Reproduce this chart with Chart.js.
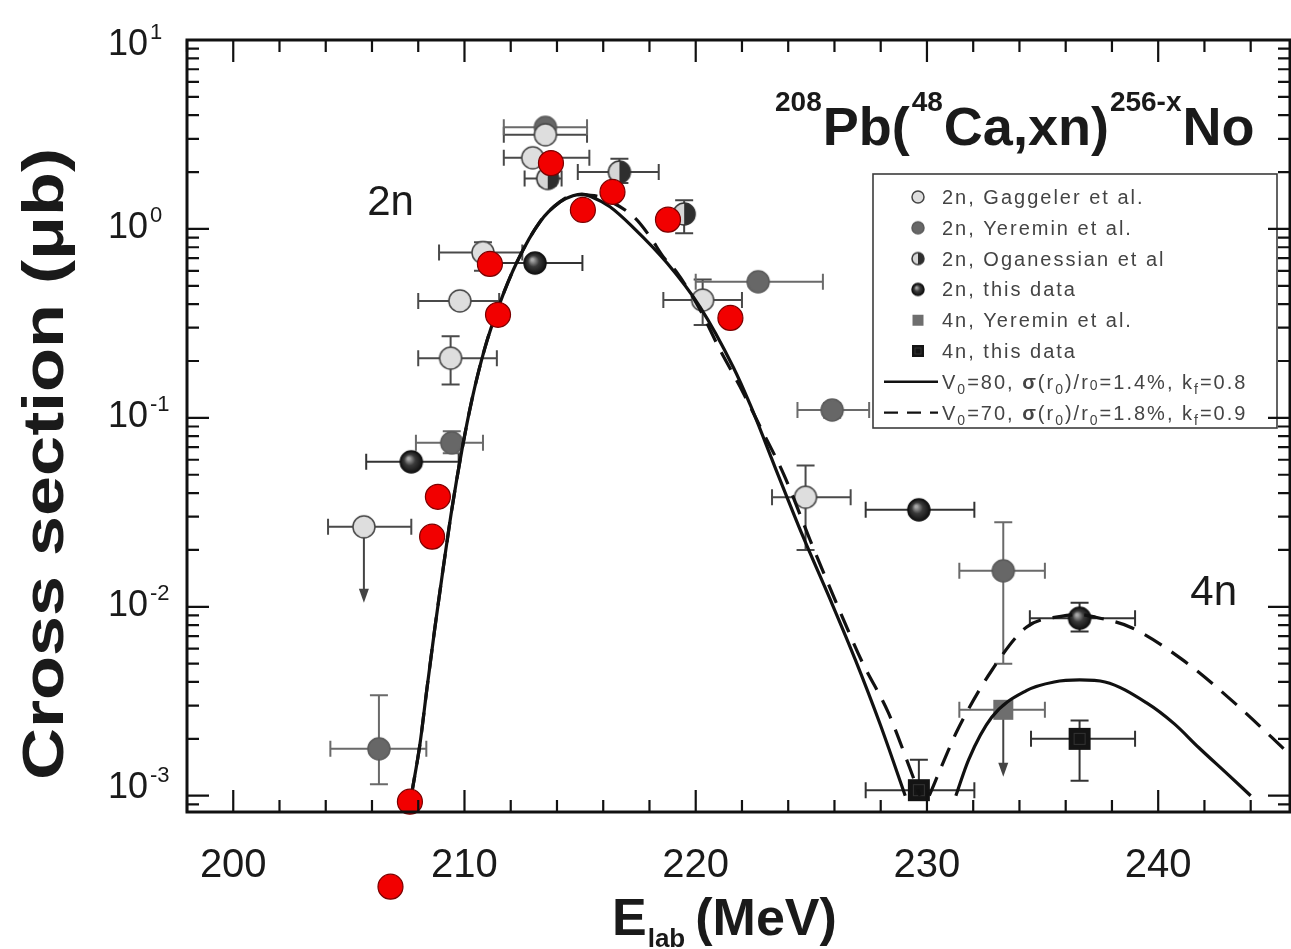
<!DOCTYPE html>
<html>
<head>
<meta charset="utf-8">
<script src="https://cdn.jsdelivr.net/npm/chart.js@4.4.1/dist/chart.umd.min.js"></script>
<style>
  html, body { margin: 0; padding: 0; background: #fff; }
  canvas { display: block; }
</style>
</head>
<body>
<canvas id="chart" width="1291" height="949"></canvas>
<script>
// ---------------- data ----------------
const xTickLabels = [200, 210, 220, 230, 240];
const yDecades = [-3, -2, -1, 0, 1];

// 2n, Gaggeler et al.
const gagE    = [205.65, 209.4, 209.8, 210.8, 212.95, 213.5, 220.3, 224.75];
const gagS    = [0.0265, 0.207, 0.416, 0.75, 2.38, 3.15, 0.42, 0.038];
const gagELo  = [204.1, 208.0, 208.0, 208.9, 211.7, 211.7, 218.6, 223.3];
const gagEHi  = [207.7, 211.4, 211.5, 212.5, 215.4, 215.3, 222.0, 226.7];
const gagSLo  = [null, 0.15, null, 0.6, null, null, 0.31, 0.02];
const gagSHi  = [null, 0.27, null, 0.85, null, null, 0.54, 0.056];

// 2n, Yeremin et al.
const yerE    = [206.3, 209.45, 213.5, 222.7, 225.9, 233.3];
const yerS    = [0.00177, 0.0738, 3.45, 0.525, 0.11, 0.0155];
const yerELo  = [204.2, 207.9, 211.7, 220.0, 224.4, 231.4];
const yerEHi  = [208.35, 210.8, 215.3, 225.5, 227.5, 235.1];
const yerSLo  = [0.00115, 0.065, null, null, 0.1, 0.005];
const yerSHi  = [0.0034, 0.085, null, null, 0.12, 0.028];

// 2n, Oganessian et al.
const ogaE    = [213.6, 216.7, 219.5];
const ogaS    = [1.85, 2.0, 1.2];
const ogaELo  = [212.6, 214.9, null];
const ogaEHi  = [214.2, 218.4, null];
const ogaSLo  = [1.7, 1.75, 0.95];
const ogaSHi  = [2.0, 2.35, 1.42];

// 2n, this data
const thiE    = [207.7, 213.05, 229.65, 236.6];
const thiS    = [0.0585, 0.66, 0.0326, 0.0087];
const thiELo  = [205.75, 211.0, 227.35, 234.45];
const thiEHi  = [209.75, 215.1, 232.05, 239.0];
const thiSLo  = [null, null, null, 0.0074];
const thiSHi  = [null, null, null, 0.0105];

// 4n, Yeremin et al.
const y4nE    = [233.3];
const y4nS    = [0.00285];
const y4nELo  = [231.4];
const y4nEHi  = [235.1];

// 4n, this data
const t4nE    = [236.6, 229.65];
const t4nS    = [0.002, 0.00107];
const t4nELo  = [234.5, 227.35];
const t4nEHi  = [239.0, 232.05];
const t4nSLo  = [0.0012, 0.00107];
const t4nSHi  = [0.0025, 0.00155];

// upper limits (arrows pointing down)
const limitE    = [205.65, 233.3];
const limitFrom = [0.0265, 0.00285];
const limitTo   = [0.0105, 0.00126];

// highlighted points
const redE = [207.64, 208.6, 208.85, 211.45, 211.1, 213.74, 215.12, 216.4, 218.8, 221.5, 206.8];
const redS = [0.00093, 0.0235, 0.0382, 0.351, 0.653, 2.23, 1.26, 1.57, 1.12, 0.338, 0.00033];

// calculations: V0=80, sigma(r0)/r0=1.4%, kf=0.8
const calcAE2n = [207.7, 208.07, 208.37, 208.72, 209.07, 209.45, 209.89, 210.32, 210.88, 211.53, 212.27, 213.26,
                  214.13, 214.69, 215.08, 215.43, 216.29, 217.29, 218.76, 220.19, 221.62, 222.36, 223.44,
                  224.61, 225.82, 226.9, 227.98, 229.06];
const calcAS2n = [0.001, 0.00186, 0.00364, 0.00774, 0.0157, 0.0326, 0.0677, 0.1245, 0.234, 0.405, 0.668, 1.089,
                  1.39, 1.5, 1.53, 1.49, 1.31, 1.02, 0.66, 0.386, 0.186, 0.117, 0.0544,
                  0.024, 0.0109, 0.00525, 0.00238, 0.001];
const calcAE4n = [231.25, 231.8, 232.8, 234.3, 235.5, 236.6, 237.7, 239.5, 240.7, 241.75, 243.0, 244.0];
const calcAS4n = [0.001, 0.00155, 0.0026, 0.0036, 0.004, 0.0041, 0.004, 0.0031, 0.0024, 0.0018, 0.0013, 0.001];

// calculations: V0=70, sigma(r0)/r0=1.8%, kf=0.9
const calcBE2n = [207.7, 208.07, 208.37, 208.72, 209.07, 209.45, 209.89, 210.32, 210.88, 211.53, 212.27, 213.26,
                  214.13, 214.8, 215.6, 216.4, 217.38, 218.03, 218.6, 219.2, 220.19, 221.05, 221.92, 222.79,
                  223.83, 224.95, 226.08, 227.2, 228.33, 229.24, 229.7];
const calcBS2n = [0.001, 0.00186, 0.00364, 0.00774, 0.0157, 0.0326, 0.0677, 0.1245, 0.234, 0.405, 0.668, 1.089,
                  1.39, 1.52, 1.5, 1.38, 1.14, 0.907, 0.711, 0.585, 0.373, 0.229, 0.146, 0.0896,
                  0.0495, 0.0225, 0.0105, 0.0051, 0.00275, 0.00142, 0.001];
const calcBE4n = [230.1, 230.8, 231.3, 232.8, 234.3, 235.8, 236.6, 237.3, 238.8, 241.0, 243.3, 245.7];
const calcBS4n = [0.001, 0.0016, 0.0022, 0.0046, 0.0078, 0.0089, 0.0091, 0.0088, 0.0078, 0.0053, 0.0031, 0.00165];

const legendRows = ['2n, Gaggeler et al.', '2n, Yeremin et al.', '2n, Oganessian et al',
                    '2n, this data', '4n, Yeremin et al.', '4n, this data'];

// ---------------- helpers ----------------
const FONT = '"Liberation Sans", Arial, Helvetica, sans-serif';
const pts = (xs, ys) => xs.map((x, i) => ({ x, y: ys[i] }));

function markerCanvas(kind, r) {
  const s = Math.ceil(2 * r + 4);
  const c = document.createElement('canvas');
  c.width = s; c.height = s;
  const g = c.getContext('2d');
  const m = s / 2;
  g.lineWidth = 1.5;
  if (kind === 'open') {
    g.beginPath(); g.arc(m, m, r, 0, Math.PI * 2);
    g.fillStyle = '#dedede'; g.fill();
    g.strokeStyle = '#444'; g.stroke();
  } else if (kind === 'grey') {
    g.beginPath(); g.arc(m, m, r, 0, Math.PI * 2);
    g.fillStyle = '#676767'; g.fill();
    g.strokeStyle = '#5a5a5a'; g.stroke();
  } else if (kind === 'half') {
    g.beginPath(); g.arc(m, m, r, Math.PI / 2, Math.PI * 1.5);
    g.fillStyle = '#d6d6d6'; g.fill();
    g.beginPath(); g.arc(m, m, r, -Math.PI / 2, Math.PI / 2);
    g.fillStyle = '#2e2e2e'; g.fill();
    g.beginPath(); g.arc(m, m, r, 0, Math.PI * 2);
    g.strokeStyle = '#333'; g.stroke();
  } else if (kind === 'ball') {
    const gr = g.createRadialGradient(m - r * 0.25, m - r * 0.3, r * 0.1, m, m, r);
    gr.addColorStop(0, '#a8a8a8');
    gr.addColorStop(0.45, '#3a3a3a');
    gr.addColorStop(1, '#111');
    g.beginPath(); g.arc(m, m, r, 0, Math.PI * 2);
    g.fillStyle = gr; g.fill();
    g.strokeStyle = '#111'; g.stroke();
  } else if (kind === 'gsq') {
    g.fillStyle = '#6e6e6e'; g.fillRect(m - r, m - r, 2 * r, 2 * r);
  } else if (kind === 'bsq') {
    g.fillStyle = '#141414'; g.fillRect(m - r, m - r, 2 * r, 2 * r);
    g.strokeStyle = '#333'; g.lineWidth = 1; g.strokeRect(m - r * 0.5, m - r * 0.5, r, r);
  }
  return c;
}

const M = {
  open: markerCanvas('open', 11), grey: markerCanvas('grey', 11), half: markerCanvas('half', 11),
  ball: markerCanvas('ball', 11), gsq: markerCanvas('gsq', 10), bsq: markerCanvas('bsq', 11)
};
const ML = {
  open: markerCanvas('open', 6), grey: markerCanvas('grey', 6), half: markerCanvas('half', 6),
  ball: markerCanvas('ball', 6), gsq: markerCanvas('gsq', 5.5), bsq: markerCanvas('bsq', 6)
};

const errorSeries = [
  { E: gagE, S: gagS, eLo: gagELo, eHi: gagEHi, sLo: gagSLo, sHi: gagSHi, color: '#4a4a4a' },
  { E: yerE, S: yerS, eLo: yerELo, eHi: yerEHi, sLo: yerSLo, sHi: yerSHi, color: '#6a6a6a' },
  { E: ogaE, S: ogaS, eLo: ogaELo, eHi: ogaEHi, sLo: ogaSLo, sHi: ogaSHi, color: '#444' },
  { E: thiE, S: thiS, eLo: thiELo, eHi: thiEHi, sLo: thiSLo, sHi: thiSHi, color: '#333' },
  { E: y4nE, S: y4nS, eLo: y4nELo, eHi: y4nEHi, sLo: [null], sHi: [null], color: '#6a6a6a' },
  { E: t4nE, S: t4nS, eLo: t4nELo, eHi: t4nEHi, sLo: t4nSLo, sHi: t4nSHi, color: '#333' }
];

function drawRich(ctx, x, y, segs) {
  for (const s of segs) {
    ctx.font = s.font;
    ctx.fillText(s.t, x, y + (s.dy || 0));
    x += ctx.measureText(s.t).width + (s.gap || 0);
  }
  return x;
}

// ---------------- plugins ----------------
const whiteBg = {
  id: 'whiteBg',
  beforeDraw(chart) {
    const c = chart.ctx;
    c.save(); c.fillStyle = '#fff'; c.fillRect(0, 0, chart.width, chart.height); c.restore();
  }
};

const errorBars = {
  id: 'errorBars',
  beforeDatasetsDraw(chart) {
    const c = chart.ctx, xs = chart.scales.x, ys = chart.scales.y;
    c.save();
    c.lineWidth = 2;
    for (const s of errorSeries) {
      c.strokeStyle = s.color;
      s.E.forEach((e, i) => {
        const px = xs.getPixelForValue(e), py = ys.getPixelForValue(s.S[i]);
        if (s.eLo[i] != null) {
          const a = xs.getPixelForValue(s.eLo[i]), b = xs.getPixelForValue(s.eHi[i]);
          c.beginPath();
          c.moveTo(a, py); c.lineTo(b, py);
          c.moveTo(a, py - 8); c.lineTo(a, py + 8);
          c.moveTo(b, py - 8); c.lineTo(b, py + 8);
          c.stroke();
        }
        if (s.sLo[i] != null) {
          const a = ys.getPixelForValue(s.sLo[i]), b = ys.getPixelForValue(s.sHi[i]);
          c.beginPath();
          c.moveTo(px, a); c.lineTo(px, b);
          c.moveTo(px - 9, a); c.lineTo(px + 9, a);
          c.moveTo(px - 9, b); c.lineTo(px + 9, b);
          c.stroke();
        }
      });
    }
    // upper limits
    c.strokeStyle = '#444'; c.fillStyle = '#444';
    limitE.forEach((e, i) => {
      const px = xs.getPixelForValue(e);
      const a = ys.getPixelForValue(limitFrom[i]), b = ys.getPixelForValue(limitTo[i]);
      c.beginPath(); c.moveTo(px, a); c.lineTo(px, b - 10); c.stroke();
      c.beginPath(); c.moveTo(px - 5, b - 14); c.lineTo(px + 5, b - 14); c.lineTo(px, b); c.closePath(); c.fill();
    });
    c.restore();
  }
};

const decorations = {
  id: 'decorations',
  afterDatasetsDraw(chart) {
    const c = chart.ctx, xs = chart.scales.x, ys = chart.scales.y, a = chart.chartArea;
    c.save();

    // red points lying outside the frame are drawn with the library's own point element
    const redMeta = chart.getDatasetMeta(0);
    redMeta.data.forEach(el => {
      if (el.y > a.bottom || el.y < a.top) el.draw(c, { left: 0, top: 0, right: chart.width, bottom: chart.height });
    });

    c.fillStyle = '#1a1a1a';
    c.textBaseline = 'alphabetic';

    // reaction label
    drawRich(c, 775, 145, [
      { t: '208', font: `bold 28px ${FONT}`, dy: -34, gap: 1 },
      { t: 'Pb(', font: `bold 54px ${FONT}`, gap: 2 },
      { t: '48', font: `bold 28px ${FONT}`, dy: -34, gap: 1 },
      { t: 'Ca,xn)', font: `bold 54px ${FONT}`, gap: 1 },
      { t: '256-x', font: `bold 28px ${FONT}`, dy: -34, gap: 1 },
      { t: 'No', font: `bold 54px ${FONT}` }
    ]);

    // channel labels
    c.font = `42px ${FONT}`;
    c.textAlign = 'center';
    c.fillText('2n', xs.getPixelForValue(206.8), 215);
    c.fillText('4n', xs.getPixelForValue(242.4), 605);
    c.textAlign = 'left';

    // legend box
    const L = { x: 873, y: 174, w: 404, h: 254 };
    c.fillStyle = '#fff';
    c.fillRect(L.x, L.y, L.w, L.h);
    c.strokeStyle = '#3c3c3c'; c.lineWidth = 1.6;
    c.strokeRect(L.x, L.y, L.w, L.h);
    const rowY = i => 197 + i * 30.8;
    const marks = [ML.open, ML.grey, ML.half, ML.ball, ML.gsq, ML.bsq];
    c.fillStyle = '#444';
    c.letterSpacing = '2px';
    legendRows.forEach((t, i) => {
      const m = marks[i];
      c.drawImage(m, 918 - m.width / 2, rowY(i) - m.height / 2);
      c.font = `20px ${FONT}`;
      c.fillText(t, 942, rowY(i) + 7);
    });
    // curve samples
    c.strokeStyle = '#111'; c.lineWidth = 2.4;
    c.beginPath(); c.moveTo(884, rowY(6)); c.lineTo(938, rowY(6)); c.stroke();
    c.setLineDash([14, 9]);
    c.beginPath(); c.moveTo(884, rowY(7)); c.lineTo(938, rowY(7)); c.stroke();
    c.setLineDash([]);
    const f = `20px ${FONT}`, fs = `14px ${FONT}`, fb = `bold 20px ${FONT}`;
    drawRich(c, 942, rowY(6) + 7, [
      { t: 'V', font: f }, { t: '0', font: fs, dy: 5 }, { t: '=80, ', font: f },
      { t: 'σ', font: fb }, { t: '(r', font: f }, { t: '0', font: fs, dy: 5 }, { t: ')/r', font: f },
      { t: '0', font: fs, dy: 1 }, { t: '=1.4%, k', font: f }, { t: 'f', font: fs, dy: 5 }, { t: '=0.8', font: f }
    ]);
    drawRich(c, 942, rowY(7) + 7, [
      { t: 'V', font: f }, { t: '0', font: fs, dy: 5 }, { t: '=70, ', font: f },
      { t: 'σ', font: fb }, { t: '(r', font: f }, { t: '0', font: fs, dy: 5 }, { t: ')/r', font: f },
      { t: '0', font: fs, dy: 5 }, { t: '=1.8%, k', font: f }, { t: 'f', font: fs, dy: 5 }, { t: '=0.9', font: f }
    ]);
    c.letterSpacing = '0px';

    // frame and inward ticks on all four sides
    c.strokeStyle = '#111';
    c.lineWidth = 3;
    c.strokeRect(a.left, a.top, a.right - a.left, a.bottom - a.top);
    c.lineWidth = 2.2;
    c.beginPath();
    for (let v = 198; v <= xs.max; v += 2) {
      const px = xs.getPixelForValue(v);
      const len = v % 10 === 0 ? 22 : 12;
      c.moveTo(px, a.bottom); c.lineTo(px, a.bottom - len);
      c.moveTo(px, a.top); c.lineTo(px, a.top + len);
    }
    for (let d = -4; d <= 1; d++) {
      for (let m = 1; m <= 9; m++) {
        const v = m * Math.pow(10, d);
        if (v < ys.min || v > ys.max * 1.0001) continue;
        const py = ys.getPixelForValue(v);
        const len = m === 1 ? 22 : 12;
        c.moveTo(a.left, py); c.lineTo(a.left + len, py);
        c.moveTo(a.right, py); c.lineTo(a.right - len, py);
      }
    }
    c.stroke();

    // tick labels
    c.fillStyle = '#1a1a1a';
    c.font = `40px ${FONT}`;
    c.textAlign = 'center';
    xTickLabels.forEach(v => c.fillText(String(v), xs.getPixelForValue(v), 877));
    yDecades.forEach(d => {
      const py = ys.getPixelForValue(Math.pow(10, d));
      let base = py + 9;
      base = Math.max(base, 55);
      base = Math.min(base, 798);
      c.font = `36px ${FONT}`;
      c.textAlign = 'right';
      c.fillText('10', 148, base);
      c.font = `22px ${FONT}`;
      c.textAlign = 'left';
      c.fillText(String(d), 150, base - 16);
    });

    // axis titles
    c.textAlign = 'left';
    drawRich(c, 612, 935, [
      { t: 'E', font: `bold 52px ${FONT}`, gap: 1 },
      { t: 'lab', font: `bold 26px ${FONT}`, dy: 12, gap: 10 },
      { t: '(MeV)', font: `bold 52px ${FONT}` }
    ]);
    c.save();
    c.translate(63, 464);
    c.rotate(-Math.PI / 2);
    c.font = `bold 57px ${FONT}`;
    c.textAlign = 'center';
    const title = 'Cross section (μb)';
    const w = c.measureText(title).width;
    c.scale(632 / w, 1);
    c.fillText(title, 0, 0);
    c.restore();
    c.restore();
  }
};

// ---------------- chart ----------------
const curveStyle = { showLine: true, pointRadius: 0, borderColor: '#111', borderWidth: 3.2,
                     cubicInterpolationMode: 'monotone', fill: false, order: 1 };

new Chart(document.getElementById('chart'), {
  type: 'scatter',
  data: {
    datasets: [
      { data: pts(redE, redS), pointStyle: 'circle', pointRadius: 12.5, backgroundColor: '#f20000',
        borderColor: '#7a0000', borderWidth: 1.2, clip: false, order: 0 },
      { data: pts(calcAE2n, calcAS2n), ...curveStyle },
      { data: pts(calcAE4n, calcAS4n), ...curveStyle },
      { data: pts(calcBE2n, calcBS2n), ...curveStyle, borderDash: [20, 12] },
      { data: pts(calcBE4n, calcBS4n), ...curveStyle, borderDash: [20, 12] },
      { label: legendRows[0], data: pts(gagE, gagS), pointStyle: M.open, order: 3 },
      { label: legendRows[1], data: pts(yerE, yerS), pointStyle: M.grey, order: 3 },
      { label: legendRows[2], data: pts(ogaE, ogaS), pointStyle: M.half, order: 2 },
      { label: legendRows[3], data: pts(thiE, thiS), pointStyle: M.ball, order: 2 },
      { label: legendRows[4], data: pts(y4nE, y4nS), pointStyle: M.gsq, order: 2 },
      { label: legendRows[5], data: pts(t4nE, t4nS), pointStyle: M.bsq, order: 2 }
    ]
  },
  options: {
    responsive: false,
    animation: false,
    devicePixelRatio: 1,
    layout: { autoPadding: false, padding: { top: 40, right: 1, left: 0, bottom: 0 } },
    plugins: { legend: { display: false }, tooltip: { enabled: false } },
    scales: {
      x: {
        type: 'linear', min: 198, max: 245.7,
        grid: { display: false }, border: { display: false },
        ticks: { display: false, stepSize: 2 },
        afterFit(s) { s.height = 137; s.paddingLeft = 0; s.paddingRight = 0; }
      },
      y: {
        type: 'logarithmic', min: 8.2e-4, max: 10,
        grid: { display: false }, border: { display: false },
        ticks: { display: false },
        afterFit(s) { s.width = 187; s.paddingTop = 0; s.paddingBottom = 0; }
      }
    }
  },
  plugins: [whiteBg, errorBars, decorations]
});
</script>
</body>
</html>
